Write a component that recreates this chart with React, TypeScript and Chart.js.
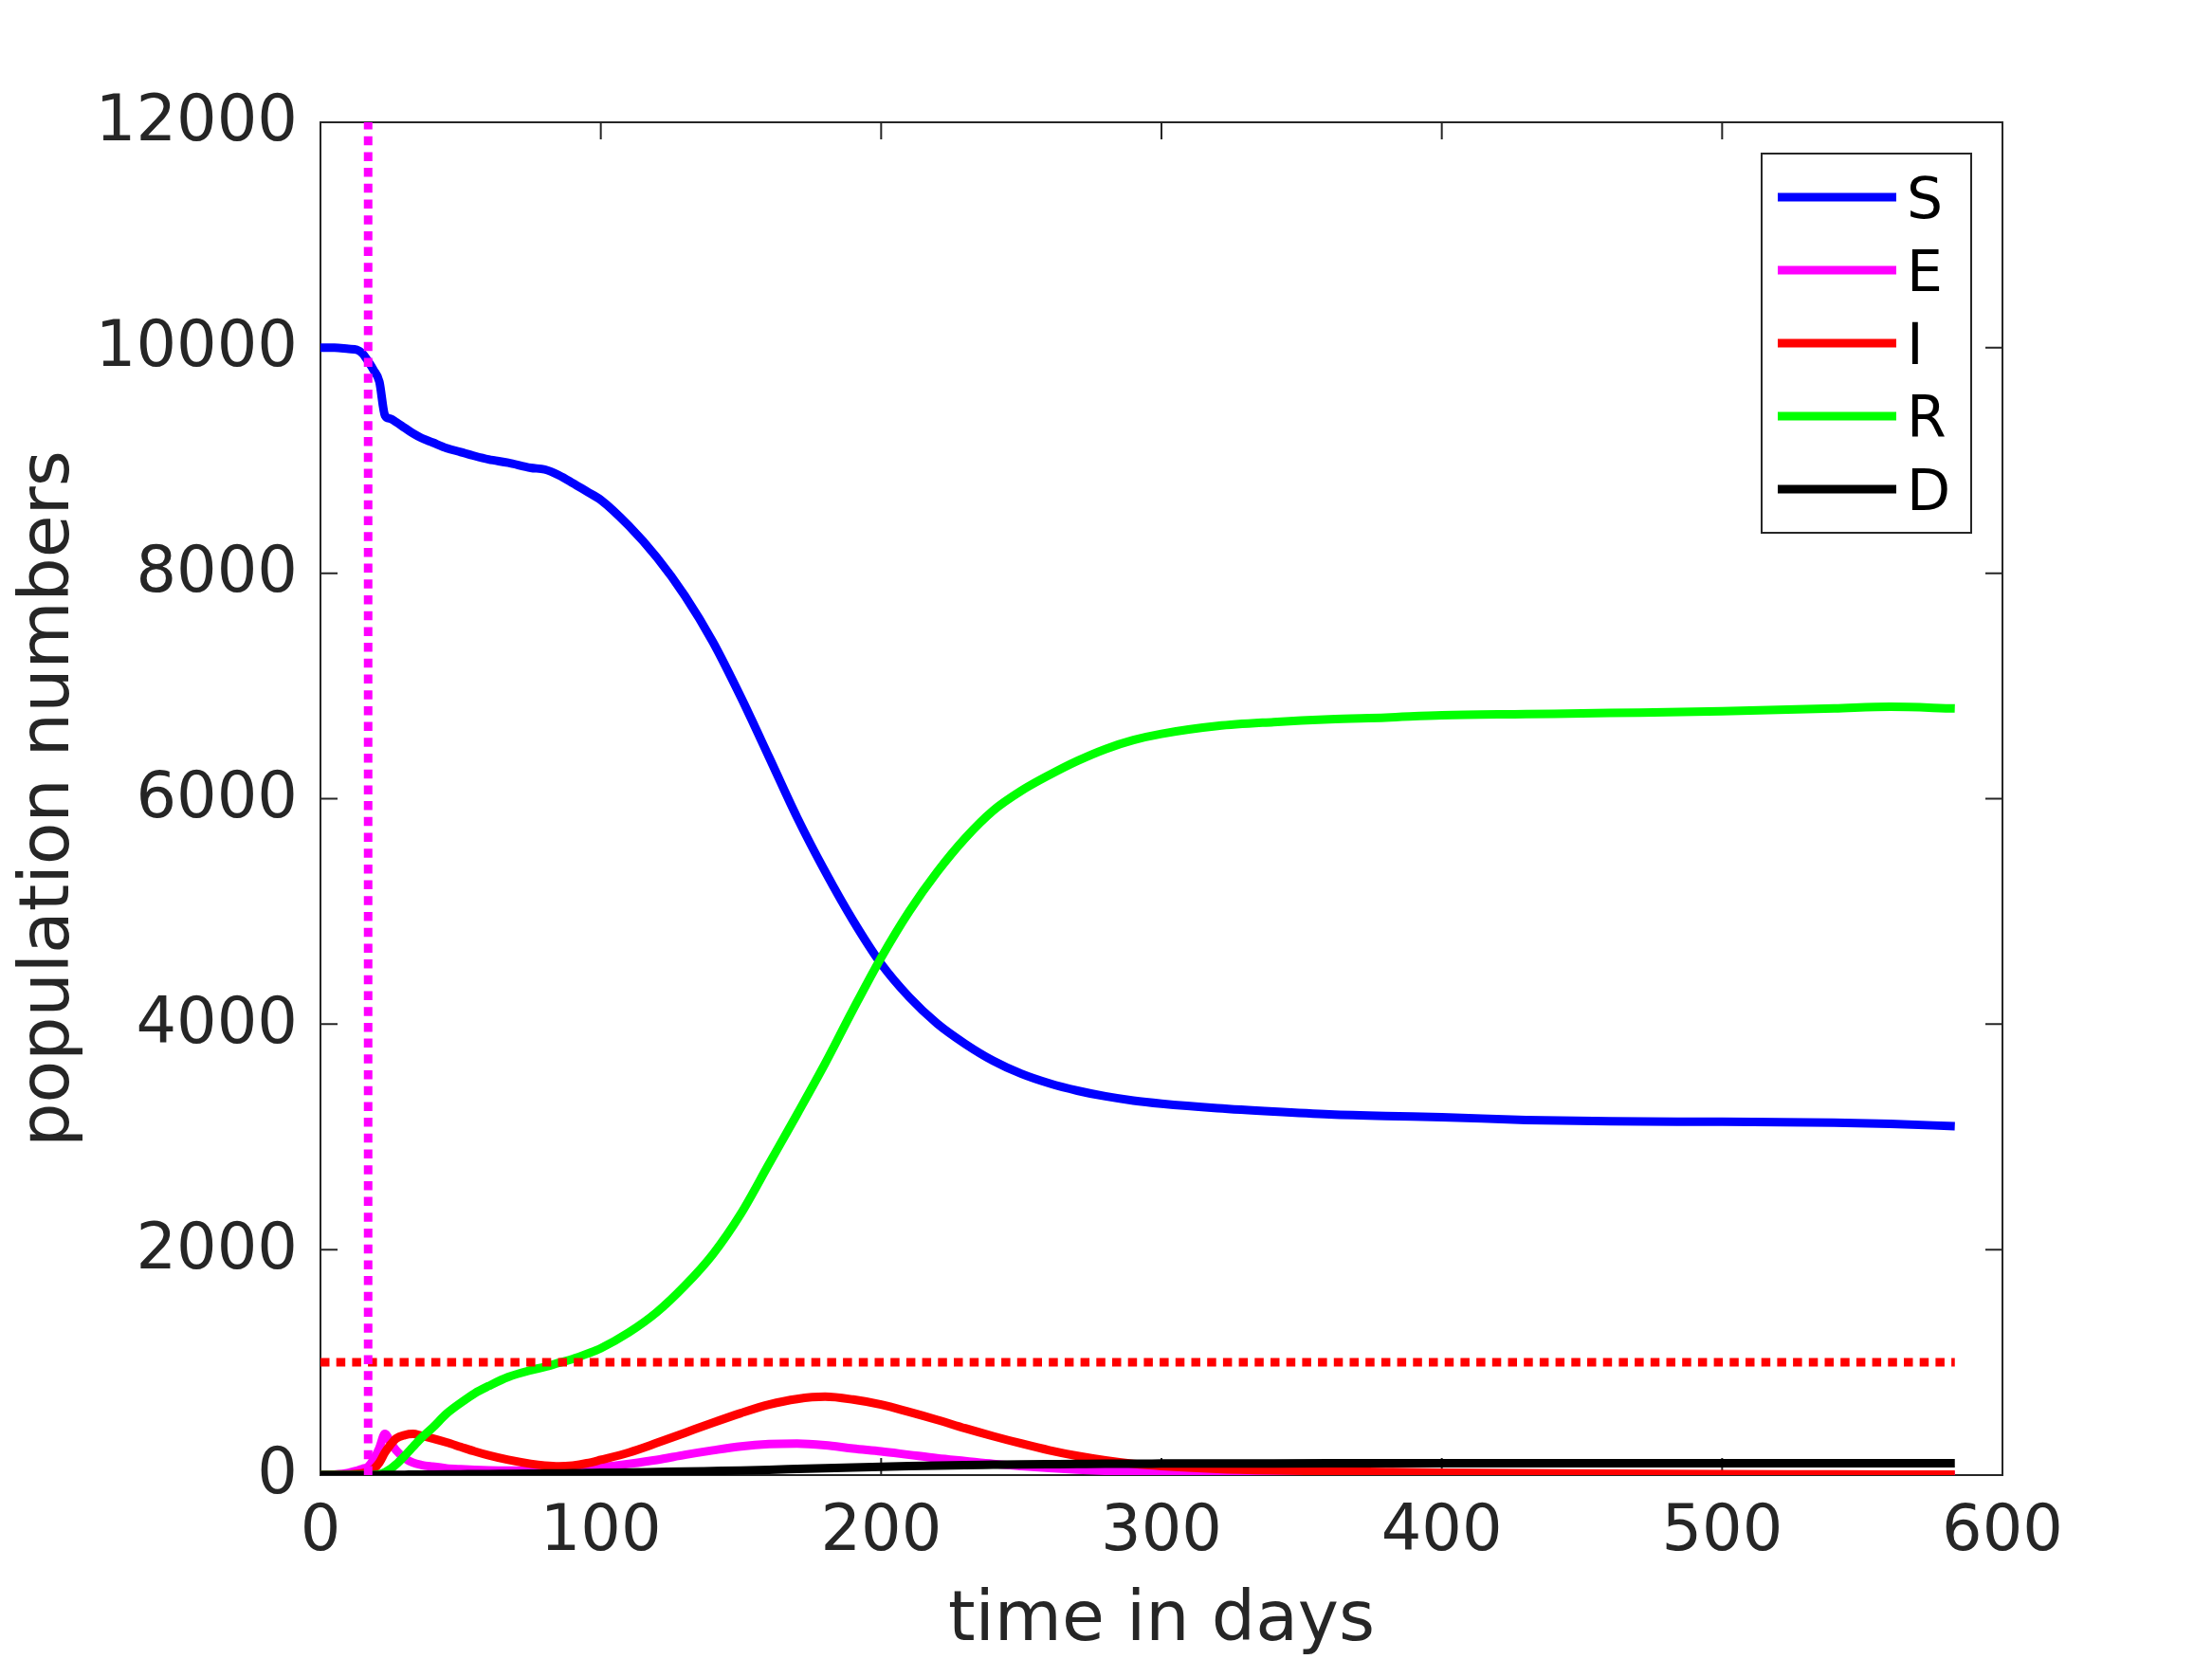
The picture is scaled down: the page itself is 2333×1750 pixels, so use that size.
import React, { useEffect, useRef } from 'react';
import { Chart, registerables } from 'chart.js';

Chart.register(...registerables);

// ---- data ----
const days = [0, 5, 10, 13, 15, 17, 19, 21, 23, 25, 27, 30, 33, 36, 40, 45, 50, 55, 60, 67, 75, 80, 85, 90, 95, 100, 110, 120, 130, 140, 150, 160, 170, 180, 190, 200, 210, 220, 230, 240, 250, 260, 270, 280, 290, 300, 320, 340, 360, 380, 400, 430, 460, 500, 540, 560, 583];

const S = [10000, 10000, 9990, 9982, 9950, 9880, 9800, 9700, 9400, 9370, 9340, 9290, 9240, 9200, 9160, 9110, 9075, 9040, 9010, 8980, 8935, 8920, 8870, 8800, 8725, 8650, 8420, 8140, 7800, 7390, 6900, 6370, 5835, 5355, 4918, 4535, 4240, 4005, 3825, 3675, 3560, 3475, 3410, 3360, 3322, 3295, 3255, 3225, 3200, 3185, 3175, 3150, 3138, 3134, 3127, 3115, 3095];

const E = [0, 5, 20, 40, 55, 75, 140, 240, 365, 290, 220, 150, 110, 90, 75, 60, 52, 46, 42, 40, 40, 41, 43, 48, 58, 70, 100, 135, 180, 220, 255, 275, 280, 265, 235, 210, 180, 150, 125, 100, 80, 62, 48, 38, 30, 24, 15, 10, 7, 5, 4, 3, 2, 1, 1, 1, 1];

const I = [0, 2, 5, 10, 18, 30, 55, 110, 200, 270, 325, 355, 365, 350, 325, 290, 250, 210, 175, 135, 100, 85, 78, 85, 105, 135, 200, 285, 375, 465, 550, 625, 675, 695, 670, 625, 560, 490, 415, 345, 280, 220, 170, 130, 100, 80, 55, 42, 35, 28, 22, 16, 12, 8, 6, 5, 5];

const R = [0, 0, 0, 0, 0, 0, 2, 8, 25, 55, 95, 170, 250, 330, 420, 545, 640, 725, 790, 870, 930, 960, 995, 1030, 1075, 1125, 1265, 1445, 1680, 1960, 2320, 2760, 3200, 3650, 4130, 4590, 5000, 5350, 5650, 5895, 6070, 6210, 6335, 6440, 6520, 6575, 6645, 6680, 6705, 6720, 6740, 6750, 6760, 6775, 6800, 6815, 6800];

const D = [0, 0, 0, 0, 0, 0, 1, 1, 2, 2, 3, 3, 4, 4, 5, 6, 7, 8, 9, 11, 13, 14, 15, 16, 18, 20, 23, 27, 31, 36, 41, 47, 54, 61, 68, 74, 80, 85, 89, 92, 95, 97, 99, 100, 101, 102, 103, 104, 105, 105, 106, 106, 106, 106, 106, 106, 106];

const seriesNames = ['S', 'E', 'I', 'R', 'D'];
const seriesValues = [S, E, I, R, D];
const seriesColors = ['#0000ff', '#ff00ff', '#ff0000', '#00ff00', '#000000'];

// threshold markers
const interventionDay = 17;
const capacityLevel = 1000;
const lastDay = 583;

const xMin = 0;
const xMax = 600;
const xStep = 100;
const yMin = 0;
const yMax = 12000;
const yStep = 2000;

const xTitle = 'time in days';
const yTitle = 'population numbers';

// ---- styling ----
const FONT = "'DejaVu Sans', sans-serif";
const AXIS_COLOR = '#262626';
const TICK_LEN = 18;
const LINE_W = 9;

const framePlugin = {
  id: 'frame',
  beforeDatasetsDraw(chart: any) {
    const { ctx, chartArea: a, scales } = chart;
    ctx.save();
    ctx.strokeStyle = AXIS_COLOR;
    ctx.lineWidth = 2;
    ctx.strokeRect(a.left, a.top, a.right - a.left, a.bottom - a.top);
    ctx.beginPath();
    scales.x.ticks.forEach((t: any) => {
      const px = scales.x.getPixelForValue(t.value);
      ctx.moveTo(px, a.bottom);
      ctx.lineTo(px, a.bottom - TICK_LEN);
      ctx.moveTo(px, a.top);
      ctx.lineTo(px, a.top + TICK_LEN);
    });
    scales.y.ticks.forEach((t: any) => {
      const py = scales.y.getPixelForValue(t.value);
      ctx.moveTo(a.left, py);
      ctx.lineTo(a.left + TICK_LEN, py);
      ctx.moveTo(a.right, py);
      ctx.lineTo(a.right - TICK_LEN, py);
    });
    ctx.stroke();
    ctx.restore();
  },
};

const legendPlugin = {
  id: 'boxLegend',
  afterDraw(chart: any) {
    const { ctx, chartArea: a } = chart;
    const bw = 221;
    const bh = 400;
    const bx = a.right - 33 - bw;
    const by = a.top + 33;
    ctx.save();
    ctx.fillStyle = '#ffffff';
    ctx.fillRect(bx, by, bw, bh);
    ctx.strokeStyle = AXIS_COLOR;
    ctx.lineWidth = 2;
    ctx.strokeRect(bx, by, bw, bh);
    seriesNames.forEach((name, i) => {
      const ds = chart.data.datasets[i];
      const y = by + 46 + i * 77;
      ctx.strokeStyle = ds.borderColor;
      ctx.lineWidth = LINE_W;
      ctx.lineCap = 'butt';
      ctx.beginPath();
      ctx.moveTo(bx + 17, y);
      ctx.lineTo(bx + 142, y);
      ctx.stroke();
      ctx.fillStyle = '#000000';
      ctx.font = `60px ${FONT}`;
      ctx.textAlign = 'left';
      ctx.textBaseline = 'alphabetic';
      ctx.fillText(name, bx + 153, y + 22);
    });
    ctx.restore();
  },
};

export default function App() {
  const ref = useRef<HTMLCanvasElement>(null);

  useEffect(() => {
    if (!ref.current) return;
    Chart.defaults.font.family = FONT;

    const datasets: any[] = seriesNames.map((name, i) => ({
      label: name,
      data: days.map((d, j) => ({ x: d, y: seriesValues[i][j] })),
      borderColor: seriesColors[i],
      backgroundColor: seriesColors[i],
      borderWidth: LINE_W,
      pointRadius: 0,
      fill: false,
      cubicInterpolationMode: 'monotone',
      borderJoinStyle: 'round',
      order: 5 - i,
    }));

    datasets.push({
      label: 'intervention',
      data: [
        { x: interventionDay, y: yMin },
        { x: interventionDay, y: yMax },
      ],
      borderColor: '#ff00ff',
      borderWidth: LINE_W,
      borderDash: [9.5, 7.2],
      borderCapStyle: 'butt',
      pointRadius: 0,
      fill: false,
      order: 0,
    });
    datasets.push({
      label: 'capacity',
      data: [
        { x: xMin, y: capacityLevel },
        { x: lastDay, y: capacityLevel },
      ],
      borderColor: '#ff0000',
      borderWidth: LINE_W,
      borderDash: [9.5, 7.2],
      borderCapStyle: 'butt',
      pointRadius: 0,
      fill: false,
      order: 0,
    });

    const chart = new Chart(ref.current, {
      type: 'line',
      data: { datasets },
      options: {
        animation: false,
        responsive: false,
        devicePixelRatio: 1,
        events: [],
        layout: { padding: { top: 129, right: 221, left: 0, bottom: 0 } },
        plugins: {
          legend: { display: false },
          tooltip: { enabled: false },
        },
        scales: {
          x: {
            type: 'linear',
            min: xMin,
            max: xMax,
            grid: { display: false, drawTicks: false },
            border: { display: false },
            ticks: {
              stepSize: xStep,
              autoSkip: false,
              maxRotation: 0,
              padding: 21,
              color: AXIS_COLOR,
              font: { size: 67, family: FONT },
              callback: (v: any) => String(v),
            },
            title: {
              display: true,
              text: xTitle,
              color: AXIS_COLOR,
              font: { size: 73, family: FONT, lineHeight: 1 },
              padding: { top: 0, bottom: 2 },
            },
            afterFit: (s: any) => {
              s.height = 194;
            },
          },
          y: {
            type: 'linear',
            min: yMin,
            max: yMax,
            grid: { display: false, drawTicks: false },
            border: { display: false },
            ticks: {
              stepSize: yStep,
              autoSkip: false,
              padding: 24,
              labelOffset: 2,
              color: AXIS_COLOR,
              font: { size: 67, family: FONT },
              callback: (v: any) => String(v),
            },
            title: {
              display: true,
              text: yTitle,
              color: AXIS_COLOR,
              font: { size: 73, family: FONT, lineHeight: 1 },
              padding: { top: 17, bottom: 0 },
            },
            afterFit: (s: any) => {
              s.width = 338;
            },
          },
        },
      },
      plugins: [framePlugin, legendPlugin],
    } as any);

    return () => chart.destroy();
  }, []);

  return (
    <div style={{ position: 'absolute', left: 0, top: 0, width: 2333, height: 1750, background: '#ffffff' }}>
      <canvas ref={ref} width={2333} height={1750} style={{ display: 'block', width: 2333, height: 1750 }} />
    </div>
  );
}
